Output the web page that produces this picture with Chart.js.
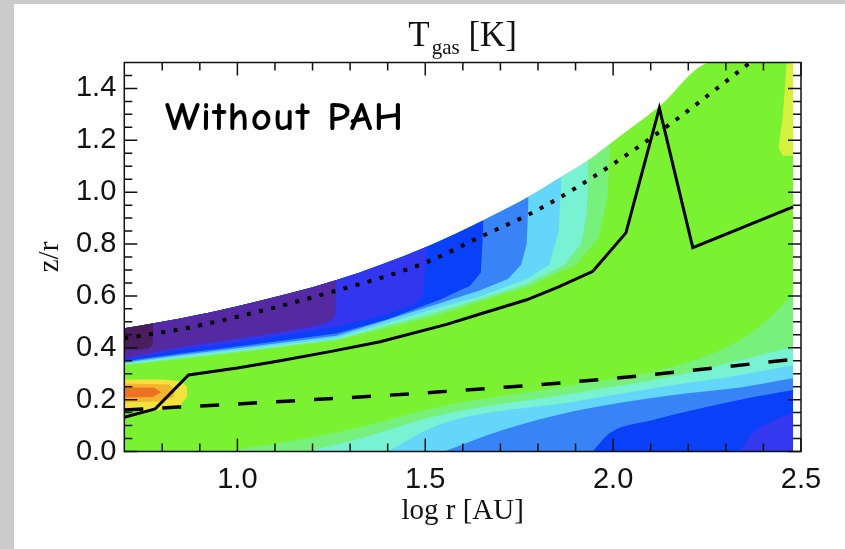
<!DOCTYPE html>
<html lang="en">
<head>
<meta charset="UTF-8">
<title>T gas without PAH</title>
<script src="https://cdn.jsdelivr.net/npm/chart.js"></script>
<style>
  html, body { margin: 0; padding: 0; background: #fff; }
</style>
</head>
<body>
<canvas id="myChart" width="845" height="549"></canvas>
<script>
// ---- axis ticks ----
const xTickLabels = [1.0, 1.5, 2.0, 2.5];
const xMinorTicks = [0.8, 0.9, 1.1, 1.2, 1.3, 1.4, 1.6, 1.7, 1.8, 1.9, 2.1, 2.2, 2.3, 2.4];
const yTickLabels = [0.0, 0.2, 0.4, 0.6, 0.8, 1.0, 1.2, 1.4];
const yMinorTicks = [0.05, 0.1, 0.15, 0.25, 0.3, 0.35, 0.45, 0.5, 0.55, 0.65, 0.7, 0.75,
                     0.85, 0.9, 0.95, 1.05, 1.1, 1.15, 1.25, 1.3, 1.35, 1.45];

// ---- disk surface (top of the coloured area) ----
const surface = [[0.699,0.475],[0.848,0.513],[1.0,0.56],[1.264,0.661],[1.504,0.79],[1.655,0.892],
                 [1.775,0.982],[1.863,1.059],[1.934,1.123],[1.992,1.187],[2.121,1.328],[2.263,1.5],[2.479,1.5]];

// upper layer: lower edge of each colour band (band fills up to the surface)
const darkPurpleLow = [[0.699,0.392],[0.74,0.393],[0.765,0.398],[0.774,0.41],[0.776,0.49]];
const purpleLow = [[0.699,0.36],[0.848,0.402],[1.0,0.435],[1.114,0.46],[1.2,0.482],[1.245,0.5],[1.26,0.52],[1.264,0.661]];
const indigoLow = [[0.699,0.354],[0.848,0.392],[1.0,0.42],[1.264,0.48],[1.4,0.53],[1.47,0.565],[1.495,0.6],[1.504,0.79]];
const blueLow = [[0.699,0.348],[0.848,0.378],[1.0,0.405],[1.264,0.455],[1.4,0.51],[1.539,0.585],[1.62,0.64],[1.648,0.69],[1.655,0.892]];
const medBlueLow = [[0.699,0.343],[0.848,0.372],[1.0,0.398],[1.264,0.446],[1.539,0.572],[1.646,0.622],[1.72,0.665],[1.755,0.72],[1.77,0.8],[1.775,0.982]];
const lightBlueLow = [[0.699,0.339],[0.848,0.366],[1.0,0.391],[1.264,0.438],[1.539,0.556],[1.646,0.598],[1.77,0.665],[1.83,0.72],[1.855,0.85],[1.863,1.059]];
const aquaLow = [[0.699,0.336],[0.848,0.361],[1.0,0.386],[1.264,0.433],[1.539,0.54],[1.646,0.588],[1.77,0.645],[1.87,0.72],[1.915,0.8],[1.93,0.92],[1.934,1.123]];
const lightGreenLow = [[0.699,0.332],[0.848,0.356],[1.0,0.381],[1.264,0.428],[1.539,0.526],[1.646,0.578],[1.77,0.632],[1.9,0.72],[1.96,0.82],[1.985,0.98],[1.992,1.187]];

// midplane layer: top edge of each colour band (band fills down to z/r = 0)
const midLightGreen = [[0.96,0],[1.1,0.03],[1.3,0.085],[1.54,0.173],[1.894,0.256],[2.16,0.327],[2.338,0.43],[2.42,0.52],[2.479,0.61]];
const midAqua = [[1.18,0],[1.3,0.04],[1.54,0.141],[1.894,0.224],[2.16,0.29],[2.338,0.352],[2.479,0.404]];
const midLightBlue = [[1.40,0],[1.54,0.105],[1.894,0.192],[2.16,0.256],[2.338,0.295],[2.479,0.333]];
const midMedBlue = [[1.55,0],[1.7,0.08],[1.894,0.155],[2.16,0.218],[2.338,0.247],[2.479,0.282]];
const midBlue = [[1.946,0],[1.99,0.07],[2.1,0.12],[2.338,0.2],[2.479,0.237]];
const midViolet = [[2.338,0],[2.37,0.07],[2.42,0.115],[2.479,0.15]];

// small closed patches
const hotYellow = [[0.699,0.155],[0.79,0.158],[0.845,0.175],[0.866,0.21],[0.866,0.25],[0.848,0.272],[0.8,0.278],[0.699,0.278]];
const hotGold = [[0.699,0.19],[0.8,0.193],[0.83,0.21],[0.835,0.24],[0.815,0.258],[0.699,0.262]];
const hotOrange = [[0.699,0.208],[0.775,0.21],[0.797,0.228],[0.78,0.246],[0.699,0.248]];
const yellowStrip = [[2.462,1.5],[2.452,1.3],[2.44,1.17],[2.452,1.14],[2.479,1.14],[2.479,1.5]];

// ---- overplotted lines ----
const dottedLine = [[0.699,0.436],[0.882,0.481],[1.268,0.622],[1.504,0.73],[1.637,0.821],[1.806,0.937],[1.988,1.097],[2.165,1.277],[2.365,1.5]];
const solidLine = [[0.699,0.132],[0.781,0.164],[0.870,0.295],[1.0,0.322],[1.114,0.35],[1.25,0.386],[1.38,0.423],[1.557,0.49],
                   [1.646,0.53],[1.77,0.585],[1.855,0.635],[1.946,0.695],[2.034,0.843],[2.123,1.324],[2.212,0.786],[2.479,0.943]];
const dashedLine = [[0.699,0.16],[1.13,0.194],[1.539,0.23],[2.0,0.282],[2.479,0.355]];

const labelPos = [0.807, 1.238]; // "Without PAH"

const pts = arr => arr.map(([x, y]) => ({x, y}));

function band(data, color, fill, smooth) {
  return {
    data: pts(data), backgroundColor: color, borderColor: 'transparent', borderWidth: 0,
    pointRadius: 0, fill: fill, tension: 0,
    cubicInterpolationMode: smooth ? 'monotone' : 'default'
  };
}
function line(data, width, dash, smooth) {
  return {
    data: pts(data), borderColor: '#000', borderWidth: width, borderDash: dash,
    pointRadius: 0, fill: false, tension: 0,
    cubicInterpolationMode: smooth ? 'monotone' : 'default'
  };
}

// datasets listed top to bottom (Chart.js paints the first one last)
const datasets = [
  line(dottedLine, 4, [4, 8.5], true),
  line(solidLine, 3, [], false),
  line(dashedLine, 3.5, [19, 19], true),
  band(yellowStrip, '#d6f03e', 'shape'),
  band(hotOrange, '#ea7421', 'shape'),
  band(hotGold, '#f5b42e', 'shape'),
  band(hotYellow, '#f2e23e', 'shape'),
];
const upper = [
  [darkPurpleLow, '#4a1e5e'], [purpleLow, '#5429a2'], [indigoLow, '#3236ee'], [blueLow, '#0a40f8'],
  [medBlueLow, '#3884f6'], [lightBlueLow, '#64d6fa'], [aquaLow, '#78f2d2'], [lightGreenLow, '#78f07c']
];
const mid = [
  [midViolet, '#3438ee'], [midBlue, '#0a40f8'], [midMedBlue, '#3884f6'],
  [midLightBlue, '#64d6fa'], [midAqua, '#78f2d2'], [midLightGreen, '#78f07c']
];
const surfaceIndex = datasets.length + upper.length + mid.length;
upper.forEach(([d, c]) => datasets.push(band(d, c, surfaceIndex, false)));
mid.forEach(([d, c]) => datasets.push(band(d, c, 'origin', true)));
datasets.push(band(surface, '#7af232', 'origin', true));

const decor = {
  id: 'decor',
  beforeDraw(chart) {
    const {ctx, width, height} = chart;
    ctx.save();
    ctx.fillStyle = '#fff';
    ctx.fillRect(0, 0, width, height);
    ctx.fillStyle = '#cbcbcb';
    ctx.fillRect(0, 0, width, 4);
    ctx.fillRect(0, 0, 14, height);
    ctx.restore();
  },
  afterDatasetsDraw(chart) {
    const {ctx, chartArea: a, scales: {x, y}} = chart;
    ctx.save();
    ctx.strokeStyle = '#111';
    ctx.lineWidth = 1.5;
    ctx.strokeRect(a.left, a.top, a.right - a.left, a.bottom - a.top);
    ctx.beginPath();
    const xt = (v, len) => {
      const p = x.getPixelForValue(v);
      ctx.moveTo(p, a.bottom); ctx.lineTo(p, a.bottom - len);
      ctx.moveTo(p, a.top); ctx.lineTo(p, a.top + len);
    };
    const yt = (v, len) => {
      const p = y.getPixelForValue(v);
      ctx.moveTo(a.left, p); ctx.lineTo(a.left + len, p);
      ctx.moveTo(a.right, p); ctx.lineTo(a.right - len, p);
    };
    xTickLabels.forEach(v => xt(v, 13));
    xMinorTicks.forEach(v => xt(v, 8));
    yTickLabels.forEach(v => yt(v, 13));
    yMinorTicks.forEach(v => yt(v, 8));
    ctx.stroke();

    // plot title T_gas [K]
    const cx = (a.left + a.right) / 2;
    const big = '35px "Liberation Serif", "Times New Roman", serif';
    const small = '21px "Liberation Serif", "Times New Roman", serif';
    ctx.fillStyle = '#111';
    ctx.textBaseline = 'alphabetic';
    ctx.textAlign = 'left';
    ctx.font = big; const wT = ctx.measureText('T').width; const wK = ctx.measureText(' [K]').width;
    ctx.font = small; const wg = ctx.measureText('gas').width;
    let tx = cx - (wT + 2 + wg + wK) / 2;
    ctx.font = big; ctx.fillText('T', tx, 46);
    ctx.font = small; ctx.fillText('gas', tx + wT + 2, 54);
    ctx.font = big; ctx.fillText(' [K]', tx + wT + 2 + wg, 46);

    // panel label
    ctx.font = 'bold 41px "Comic Sans MS", "Comic Neue", "DejaVu Sans", sans-serif';
    ctx.letterSpacing = '1.5px';
    ctx.fillStyle = '#000';
    ctx.fillText('Without PAH', x.getPixelForValue(labelPos[0]), y.getPixelForValue(labelPos[1]));
    ctx.restore();
  }
};

const tickFont = {family: '"Liberation Sans", Arial, sans-serif', size: 29};
const titleFont = {family: '"Liberation Serif", "Times New Roman", serif', size: 29};

new Chart(document.getElementById('myChart'), {
  type: 'line',
  data: {datasets},
  options: {
    responsive: false,
    animation: false,
    layout: {padding: {top: 62.5, right: 44, left: 0, bottom: 0}},
    plugins: {legend: {display: false}, tooltip: {enabled: false}, title: {display: false}},
    scales: {
      x: {
        type: 'linear', min: 0.699, max: 2.5,
        grid: {display: false, drawTicks: false}, border: {display: false},
        afterBuildTicks: s => { s.ticks = xTickLabels.map(v => ({value: v})); },
        afterFit: s => { s.height = 97.5; },
        ticks: {font: tickFont, color: '#111', padding: 11, maxRotation: 0, autoSkip: false,
                callback: v => v.toFixed(1)},
        title: {display: true, text: 'log r [AU]', font: titleFont, color: '#111', padding: {top: 0, bottom: 20}}
      },
      y: {
        type: 'linear', min: 0, max: 1.5,
        grid: {display: false, drawTicks: false}, border: {display: false},
        afterBuildTicks: s => { s.ticks = yTickLabels.map(v => ({value: v})); },
        afterFit: s => { s.width = 124.3; },
        ticks: {font: tickFont, color: '#111', padding: 8, autoSkip: false,
                callback: v => v.toFixed(1)},
        title: {display: true, text: 'z/r', font: titleFont, color: '#111', padding: {top: 33, bottom: 0}}
      }
    }
  },
  plugins: [decor]
});
</script>
</body>
</html>
